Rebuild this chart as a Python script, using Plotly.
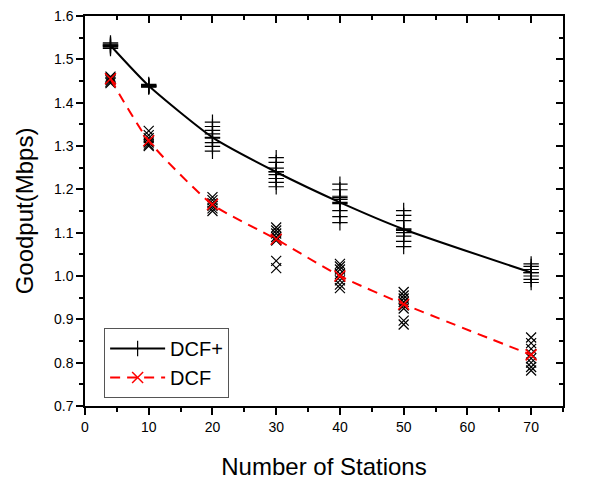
import plotly.graph_objects as go

# ---- data ----
stations = [4, 10, 20, 30, 40, 50, 70]

# individual runs, DCF+
dcfp_runs = {
    4: [1.538, 1.535, 1.533, 1.530, 1.528, 1.525],
    10: [1.442, 1.440, 1.438, 1.437, 1.436],
    20: [1.355, 1.345, 1.336, 1.328, 1.318, 1.308, 1.299, 1.288],
    30: [1.273, 1.262, 1.249, 1.241, 1.234, 1.225, 1.216, 1.206],
    40: [1.212, 1.199, 1.184, 1.181, 1.177, 1.167, 1.151, 1.137, 1.123],
    50: [1.151, 1.140, 1.128, 1.108, 1.105, 1.100, 1.092, 1.080, 1.068],
    70: [1.028, 1.022, 1.015, 1.008, 1.000, 0.992, 0.985],
}
# individual runs, DCF
dcf_runs = {
    4: [1.460, 1.457, 1.455, 1.452, 1.448, 1.445],
    10: [1.335, 1.325, 1.318, 1.312, 1.308, 1.303, 1.300],
    20: [1.182, 1.175, 1.168, 1.162, 1.156, 1.150],
    30: [1.112, 1.105, 1.098, 1.090, 1.085, 1.082, 1.035, 1.018],
    40: [1.028, 1.022, 1.015, 1.005, 0.998, 0.990, 0.980, 0.972],
    50: [0.963, 0.955, 0.948, 0.940, 0.932, 0.925, 0.897, 0.888],
    70: [0.858, 0.845, 0.832, 0.820, 0.810, 0.800, 0.790, 0.782],
}
# average curves
dcfp_mean = [1.532, 1.439, 1.320, 1.240, 1.170, 1.108, 1.008]
dcf_mean = [1.455, 1.312, 1.165, 1.085, 1.000, 0.935, 0.818]

x_ticks = [0, 10, 20, 30, 40, 50, 60, 70]
y_ticks = [0.7, 0.8, 0.9, 1.0, 1.1, 1.2, 1.3, 1.4, 1.5, 1.6]

FONT = "Liberation Sans, Arial, sans-serif"

fig = go.Figure()

def flatten(d):
    xs, ys = [], []
    for k, vals in d.items():
        for v in vals:
            xs.append(k)
            ys.append(v)
    return xs, ys

xp, yp = flatten(dcfp_runs)
xd, yd = flatten(dcf_runs)

fig.add_trace(go.Scatter(x=xp, y=yp, mode="markers", showlegend=False,
                         marker=dict(symbol="cross-thin", size=11,
                                     line=dict(color="black", width=1.2))))
fig.add_trace(go.Scatter(x=xd, y=yd, mode="markers", showlegend=False,
                         marker=dict(symbol="x-thin", size=10,
                                     line=dict(color="black", width=1.2))))

fig.add_trace(go.Scatter(x=stations, y=dcfp_mean, mode="lines+markers", name="DCF+",
                         line=dict(color="black", width=2, shape="spline", smoothing=0.6),
                         marker=dict(symbol="cross-thin", size=11,
                                     line=dict(color="black", width=1.2))))
fig.add_trace(go.Scatter(x=stations, y=dcf_mean, mode="lines+markers", name="DCF",
                         line=dict(color="red", width=2, dash="10px,7px", shape="spline", smoothing=0.6),
                         marker=dict(symbol="x-thin", size=11,
                                     line=dict(color="red", width=1.5))))

# invisible trace on mirror axes
fig.add_trace(go.Scatter(x=[0], y=[0.7], xaxis="x2", yaxis="y2", mode="markers",
                         marker=dict(opacity=0), showlegend=False, hoverinfo="skip"))

axis_common = dict(showgrid=False, zeroline=False, showline=True, linecolor="black",
                   linewidth=1.5, tickcolor="black", tickwidth=1.5, automargin=False,
                   tickfont=dict(family=FONT, size=14, color="black"))

fig.update_layout(
    width=590, height=483,
    margin=dict(l=85, r=27, t=16, b=77),
    plot_bgcolor="white", paper_bgcolor="white",
    font=dict(family=FONT, color="black"),
    xaxis=dict(range=[0, 75], tickmode="array", tickvals=x_ticks, ticks="outside", ticklen=7,
               minor=dict(ticks="outside", ticklen=4, dtick=5, tick0=0, tickcolor="black", tickwidth=1.5),
               title=dict(text="Number of Stations", font=dict(family=FONT, size=24), standoff=25),
               **axis_common),
    yaxis=dict(range=[0.7, 1.6], tickmode="array", tickvals=y_ticks, tickformat=".1f",
               ticks="outside", ticklen=7,
               minor=dict(ticks="outside", ticklen=4, dtick=0.05, tick0=0.7, tickcolor="black", tickwidth=1.5),
               title=dict(text="Goodput(Mbps)", font=dict(family=FONT, size=24), standoff=14),
               **axis_common),
    xaxis2=dict(range=[0, 75], overlaying="x", side="top", anchor="y", tickmode="array",
                tickvals=x_ticks, ticks="inside", ticklen=7, showticklabels=False,
                minor=dict(ticks="inside", ticklen=4, dtick=5, tick0=0, tickcolor="black", tickwidth=1.5),
                **axis_common),
    yaxis2=dict(range=[0.7, 1.6], overlaying="y", side="right", anchor="x", tickmode="array",
                tickvals=y_ticks, ticks="inside", ticklen=7, showticklabels=False,
                minor=dict(ticks="inside", ticklen=4, dtick=0.05, tick0=0.7, tickcolor="black", tickwidth=1.5),
                **axis_common),
    legend=dict(x=0.04, y=0.2, xanchor="left", yanchor="top",
                bgcolor="white", bordercolor="#555555", borderwidth=1,
                font=dict(family=FONT, size=20, color="black"),
                itemwidth=55, tracegroupgap=0),
)

# remove the default 8px page margin so the figure sits at the window's corner
fig.write_html("out.html", config={"displayModeBar": False},
               post_script="document.body.style.margin='0px';")
